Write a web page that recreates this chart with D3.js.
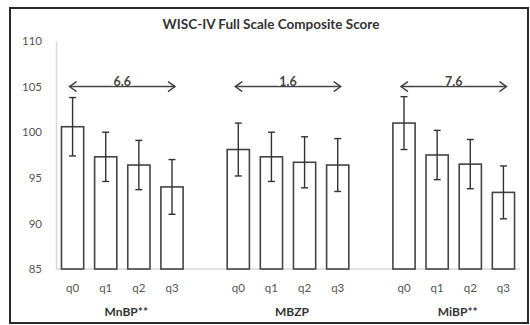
<!DOCTYPE html>
<html>
<head>
<meta charset="utf-8">
<script src="https://cdn.jsdelivr.net/npm/d3@7"></script>
<style>
  html, body { margin: 0; padding: 0; background: #fff; }
  svg { display: block; }
</style>
</head>
<body>
<svg id="chart" width="530" height="325"></svg>
<script>
// Exposure groups and quartiles
const groups = ["MnBP**", "MBZP", "MiBP**"];
const quartiles = ["q0", "q1", "q2", "q3"];
// Mean Full Scale composite score per quartile, one array per group
const meansMnBP = [100.6, 97.3, 96.4, 94.0];
const meansMBZP = [98.1, 97.3, 96.7, 96.4];
const meansMiBP = [101.0, 97.5, 96.5, 93.4];
// Error bar half-widths
const errMnBP = [3.2, 2.7, 2.7, 3.0];
const errMBZP = [2.9, 2.7, 2.8, 2.9];
const errMiBP = [2.9, 2.7, 2.7, 2.9];
// Difference between q0 and q3 shown above each group
const diffs = ["6.6", "1.6", "7.6"];
const yTicks = [85, 90, 95, 100, 105, 110];

const means = [meansMnBP, meansMBZP, meansMiBP];
const errs = [errMnBP, errMBZP, errMiBP];

// Flatten into slots: four bars per group with an empty slot between groups
const slots = [];
groups.forEach((g, gi) => {
  quartiles.forEach((q, qi) => slots.push({ key: g + "-" + q, group: gi, q, mean: means[gi][qi], err: errs[gi][qi] }));
  if (gi < groups.length - 1) slots.push({ key: "gap" + gi, gap: true });
});

const svg = d3.select("#chart");
const W = 530, H = 325;
const m = { left: 56, right: 10, top: 41, bottom: 56 };
const font = "Lato, 'Open Sans', sans-serif";

// Outer frame
svg.append("rect").attr("x", 10).attr("y", 8).attr("width", 518).attr("height", 315)
  .attr("fill", "#fff").attr("stroke", "#2a2a2a").attr("stroke-width", 2);

const x = d3.scaleBand().domain(slots.map(d => d.key))
  .range([m.left, W - m.right]).paddingInner(0.33).paddingOuter(0.165);
const y = d3.scaleLinear().domain([85, 110]).range([269, 41]);

// Title
svg.append("text").attr("x", 271).attr("y", 29).attr("text-anchor", "middle")
  .attr("font-family", font).attr("font-weight", "bold")
  .attr("font-size", 13.5).attr("fill", "#333").text("WISC-IV Full Scale Composite Score");

// Y axis
const yAxis = svg.append("g").attr("transform", `translate(${m.left},0)`)
  .call(d3.axisLeft(y).tickValues(yTicks).tickSize(0).tickPadding(14));
yAxis.select(".domain").attr("stroke", "#d8d8d8").attr("stroke-width", 1.5);
yAxis.selectAll("text").attr("font-family", font)
  .attr("font-size", 11.5).attr("fill", "#555");

// Baseline
svg.append("line").attr("x1", m.left).attr("x2", W - m.right)
  .attr("y1", y(85)).attr("y2", y(85)).attr("stroke", "#d8d8d8").attr("stroke-width", 1.5);

const bars = slots.filter(d => !d.gap);

// Bars
svg.append("g").selectAll("rect").data(bars).join("rect")
  .attr("x", d => x(d.key)).attr("width", x.bandwidth())
  .attr("y", d => y(d.mean)).attr("height", d => y(85) - y(d.mean))
  .attr("fill", "#fff").attr("stroke", "#444").attr("stroke-width", 1.6);

// Error bars
const eb = svg.append("g").attr("stroke", "#333").attr("stroke-width", 1.4);
bars.forEach(d => {
  const cx = x(d.key) + x.bandwidth() / 2;
  eb.append("line").attr("x1", cx).attr("x2", cx).attr("y1", y(d.mean + d.err)).attr("y2", y(d.mean - d.err));
  eb.append("line").attr("x1", cx - 3.5).attr("x2", cx + 3.5).attr("y1", y(d.mean + d.err)).attr("y2", y(d.mean + d.err));
  eb.append("line").attr("x1", cx - 3.5).attr("x2", cx + 3.5).attr("y1", y(d.mean - d.err)).attr("y2", y(d.mean - d.err));
});

// Quartile labels
svg.append("g").selectAll("text").data(bars).join("text")
  .attr("x", d => x(d.key) + x.bandwidth() / 2).attr("y", 292)
  .attr("text-anchor", "middle").attr("font-family", font)
  .attr("font-size", 11.5).attr("fill", "#555").text(d => d.q);

// Group labels and q0–q3 difference arrows
const arrowY = y(105);
groups.forEach((g, gi) => {
  const first = x(g + "-q0") + x.bandwidth() / 2 - 3;
  const last = x(g + "-q3") + x.bandwidth() / 2 + 3;
  const mid = (first + last) / 2;
  svg.append("text").attr("x", mid + 4).attr("y", 316).attr("text-anchor", "middle")
    .attr("font-family", font).attr("font-weight", "bold")
    .attr("font-size", 12).attr("fill", "#333").text(g);

  const a = svg.append("g").attr("stroke", "#444").attr("stroke-width", 1.5).attr("fill", "none");
  a.append("line").attr("x1", first).attr("x2", last).attr("y1", arrowY).attr("y2", arrowY);
  a.append("path").attr("d", `M${first + 7},${arrowY - 5}L${first},${arrowY}L${first + 7},${arrowY + 5}`);
  a.append("path").attr("d", `M${last - 7},${arrowY - 5}L${last},${arrowY}L${last - 7},${arrowY + 5}`);

  svg.append("rect").attr("x", mid - 11).attr("y", arrowY - 12).attr("width", 22).attr("height", 11).attr("fill", "#fff");
  svg.append("text").attr("x", mid).attr("y", arrowY - 0.5).attr("text-anchor", "middle")
    .attr("font-family", font).attr("font-weight", "bold").attr("font-size", 12.5)
    .attr("fill", "#444").text(diffs[gi]);
});
</script>
</body>
</html>
